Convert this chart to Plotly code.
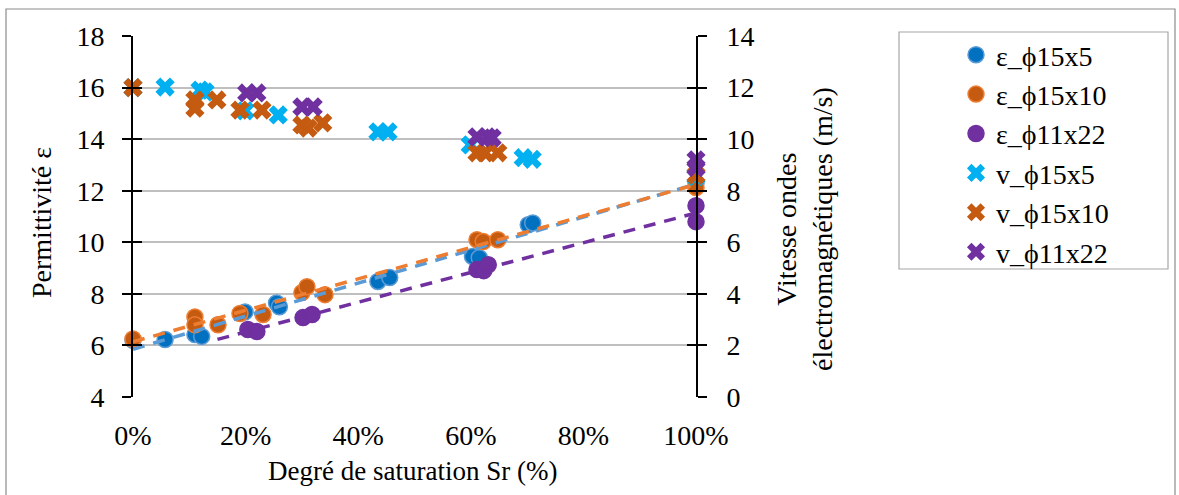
import numpy as np
import plotly.graph_objects as go

FONT = "Liberation Serif"
TXT = "#000000"

# ---------------- data (Sr in %, permittivity, velocity) ----------------
sr_eps_15x5 = [0, 5.7, 11.0, 12.2, 19.9, 25.5, 26.0, 43.5, 45.6, 60.3, 61.5, 70.2, 71.0, 100]
eps_15x5 = [6.2, 6.23, 6.42, 6.35, 7.3, 7.65, 7.5, 8.48, 8.63, 9.45, 9.4, 10.68, 10.75, 12.3]

sr_eps_15x10 = [0, 11.0, 11.0, 15.1, 19.0, 23.1, 30.0, 30.9, 34.1, 61.1, 62.2, 64.8, 100]
eps_15x10 = [6.25, 7.1, 6.8, 6.8, 7.24, 7.2, 8.05, 8.28, 7.97, 10.1, 10.03, 10.1, 12.12]

sr_eps_11x22 = [20.4, 22.0, 30.2, 31.8, 61.1, 62.3, 63.1, 100, 100]
eps_11x22 = [6.62, 6.54, 7.08, 7.2, 8.94, 8.9, 9.13, 11.42, 10.8]

sr_v_15x5 = [0, 5.7, 11.9, 12.8, 19.9, 25.8, 43.5, 45.3, 59.9, 69.3, 70.9, 100]
v_15x5 = [12.0, 12.02, 11.9, 11.83, 11.1, 10.94, 10.28, 10.28, 9.78, 9.28, 9.22, 8.55]

sr_v_15x10 = [0, 11.0, 11.0, 14.9, 19.0, 22.9, 30.0, 31.1, 33.7, 61.1, 62.5, 64.8, 100]
v_15x10 = [12.0, 11.52, 11.2, 11.52, 11.13, 11.13, 10.55, 10.43, 10.63, 9.47, 9.47, 9.47, 8.6]

sr_v_11x22 = [20.2, 22.0, 30.0, 32.0, 61.1, 62.9, 63.8, 100, 100]
v_11x22 = [11.79, 11.79, 11.25, 11.25, 10.09, 10.09, 10.05, 9.2, 8.9]

x_ticks = [0, 20, 40, 60, 80, 100]
x_ticktext = ["0%", "20%", "40%", "60%", "80%", "100%"]

names = ["ε_ϕ15x5", "ε_ϕ15x10", "ε_ϕ11x22", "v_ϕ15x5", "v_ϕ15x10", "v_ϕ11x22"]

# styles
C_BLUE_FILL, C_BLUE_EDGE = "#0070C0", "#5B9BD5"
C_OR_FILL, C_OR_EDGE = "#C55A11", "#ED7D31"
C_PURPLE = "#7030A0"
C_CYAN = "#00B0F0"
FS = 28

# plot area in pixels
W, H = 1179, 495
L, R, T, B = 133, 1179 - 696, 36, 495 - 397
PW, PH = W - L - R, H - T - B


def px(xp):
    return (xp - L) / PW


def py(yp):
    return (H - B - yp) / PH


fig = go.Figure()

circ = [
    (sr_eps_15x5, eps_15x5, C_BLUE_FILL, C_BLUE_EDGE),
    (sr_eps_15x10, eps_15x10, C_OR_FILL, C_OR_EDGE),
    (sr_eps_11x22, eps_11x22, C_PURPLE, C_PURPLE),
]
for i, (xs, ys, fc, ec) in enumerate(circ):
    fig.add_trace(go.Scatter(
        x=xs, y=ys, mode="markers", name=names[i], legendgroup=names[i],
        marker=dict(symbol="circle", size=16, color=fc, line=dict(color=ec, width=1.5)),
        cliponaxis=False, yaxis="y",
    ))

# linear trend lines (as in the spreadsheet), computed from the series
trend_specs = [
    (sr_eps_15x5, eps_15x5, C_BLUE_EDGE, 0),
    (sr_eps_15x10, eps_15x10, C_OR_EDGE, 0),
    (sr_eps_11x22, eps_11x22, C_PURPLE, 15),
]
for xs, ys, col, x0 in trend_specs:
    k, b = np.polyfit(xs, ys, 1)
    xx = np.array([x0, max(xs)], dtype=float)
    fig.add_trace(go.Scatter(
        x=xx, y=k * xx + b, mode="lines", showlegend=False, hoverinfo="skip",
        line=dict(color=col, width=3.5, dash="12px,9px"), yaxis="y",
    ))

cross = [
    (sr_v_15x5, v_15x5, C_CYAN),
    (sr_v_15x10, v_15x10, C_OR_FILL),
    (sr_v_11x22, v_11x22, C_PURPLE),
]
for i, (xs, ys, c) in enumerate(cross):
    fig.add_trace(go.Scatter(
        x=xs, y=ys, mode="markers", name=names[3 + i], legendgroup=names[3 + i],
        marker=dict(symbol="x", size=17, color=c, line=dict(width=0)),
        cliponaxis=False, yaxis="y2",
    ))

# empty traces to hold the inner-tick axes
fig.add_trace(go.Scatter(x=[], y=[], yaxis="y3", showlegend=False))
fig.add_trace(go.Scatter(x=[], y=[], yaxis="y4", showlegend=False))

tickfont = dict(family=FONT, size=FS, color=TXT)
common_y = dict(showgrid=False, zeroline=False, dtick=2, tickwidth=1.5,
                tickcolor="#000", ticklen=9, tickfont=tickfont)

fig.update_layout(
    width=W, height=H,
    margin=dict(l=L, r=R, t=T, b=B, autoexpand=False),
    paper_bgcolor="white", plot_bgcolor="white",
    font=dict(family=FONT, size=FS, color=TXT),
    xaxis=dict(range=[0, 100], tickvals=x_ticks, ticktext=x_ticktext, showgrid=False,
               showline=False, zeroline=False, ticks="", tickfont=tickfont,
               ticklabelstandoff=19),
    yaxis=dict(range=[4, 18], **{**common_y, "showgrid": True},
               gridcolor="#BFBFBF", gridwidth=1.5, showline=True,
               linecolor="#000", linewidth=2, ticks="outside",
               ticklabelstandoff=12),
    yaxis2=dict(range=[0, 14], overlaying="y", side="right", showline=True,
                linecolor="#000", linewidth=2, ticks="outside",
                ticklabelstandoff=14, **common_y),
    yaxis3=dict(range=[4, 18], overlaying="y", side="left", showline=False,
                ticks="inside", showticklabels=False, **common_y),
    yaxis4=dict(range=[0, 14], overlaying="y", side="right", showline=False,
                ticks="inside", showticklabels=False, **common_y),
    legend=dict(x=px(956), y=py(30), xanchor="left", yanchor="top",
                bgcolor="rgba(0,0,0,0)", borderwidth=0, maxheight=400,
                font=dict(family=FONT, size=FS, color=TXT),
                traceorder="grouped", tracegroupgap=0),
    showlegend=True,
)

shapes = [
    # chart border
    dict(type="rect", xref="paper", yref="paper", x0=px(6), x1=px(1175),
         y0=py(505), y1=py(9), line=dict(color="#8C8C8C", width=1.2),
         fillcolor="rgba(0,0,0,0)", layer="below"),
    # legend box
    dict(type="rect", xref="paper", yref="paper", x0=px(899), x1=px(1168),
         y0=py(269), y1=py(32), line=dict(color="#A6A6A6", width=1.2),
         fillcolor="rgba(0,0,0,0)", layer="below"),
]
fig.update_layout(shapes=shapes)

ann = [
    dict(text="Permittivité ε", x=px(42), y=py(223), textangle=-90, size=FS),
    dict(text="Vitesse ondes<br>électromagnétiques (m/s)", x=px(804), y=py(229),
         textangle=-90, size=FS),
    dict(text="Degré de saturation Sr (%)", x=px(412), y=py(471), textangle=0, size=27),
]
for a in ann:
    sz = a.pop("size")
    fig.add_annotation(xref="paper", yref="paper", xanchor="center", yanchor="middle",
                       showarrow=False, font=dict(family=FONT, size=sz, color=TXT), **a)

fig.write_html("out.html", post_script="document.body.style.margin='0';",
               config={"displayModeBar": False})
